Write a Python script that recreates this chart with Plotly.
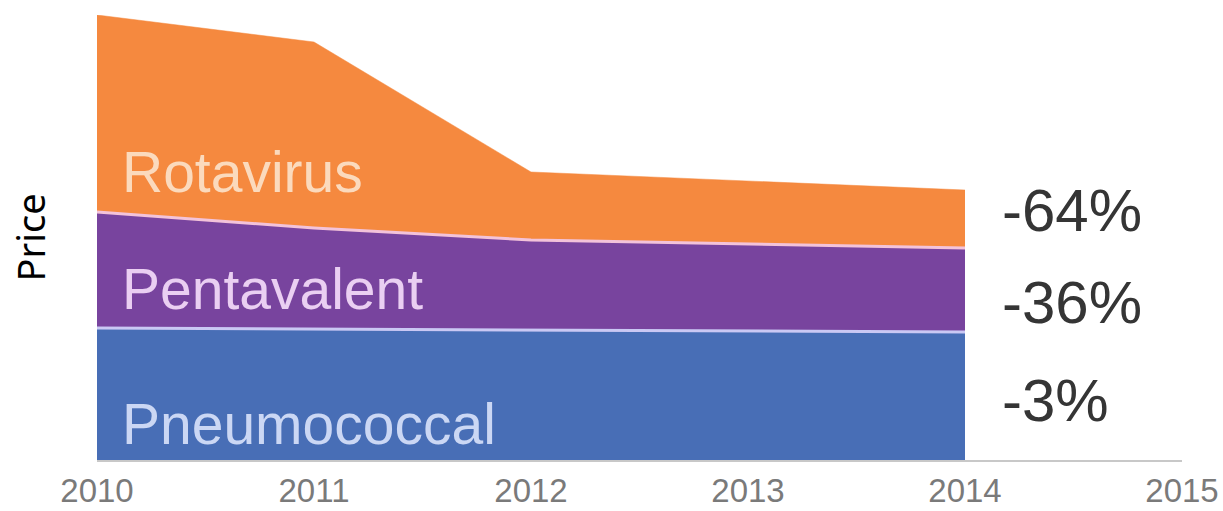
import plotly.graph_objects as go

# Vaccine price data (stacked, arbitrary price units)
years = [2010, 2011, 2012, 2013, 2014]
pneumococcal = [132, 131, 130, 129, 128]
pentavalent = [116, 101, 90, 87, 84]
rotavirus = [197, 186, 68, 63, 58]

series_names = ["Pneumococcal", "Pentavalent", "Rotavirus"]
price_changes = ["-3%", "-36%", "-64%"]
tick_years = [2010, 2011, 2012, 2013, 2014, 2015]

fill_colors = ["#486EB6", "#78449E", "#F5893F"]
edge_colors = ["#CAC8F4", "#F3C3DA", "#F5893F"]
edge_widths = [3, 3, 0.5]
label_colors = ["#CBD7F4", "#EACFF2", "#FBDABD"]

fig = go.Figure()
for name, vals, fc, ec, ew in zip(series_names, [pneumococcal, pentavalent, rotavirus],
                                  fill_colors, edge_colors, edge_widths):
    fig.add_trace(go.Scatter(
        x=years, y=vals, name=name, mode="lines", stackgroup="price",
        fillcolor=fc, line=dict(color=ec, width=ew, shape="linear"),
        hoverinfo="skip",
    ))

# In-area series labels, placed within each band
label_y = [36, 171, 288]
for name, ly, col in zip(series_names, label_y, label_colors):
    fig.add_annotation(
        x=2010.105, y=ly, xref="x", yref="y", text=name, showarrow=False,
        xanchor="left", yanchor="middle",
        font=dict(family="Liberation Sans, Arial, sans-serif", size=57, color=col),
    )

# Percentage changes beside the last year
change_y = [60, 158, 250]
for txt, cy in zip(price_changes, change_y):
    fig.add_annotation(
        x=2014.16, y=cy, xref="x", yref="y", text=txt, showarrow=False,
        xanchor="left", yanchor="middle",
        font=dict(family="Liberation Sans, Arial, sans-serif", size=60, color="#353535"),
    )

# Vertical axis title
fig.add_annotation(
    x=-68 / 1085, y=0.5, xref="paper", yref="paper", text="Price", showarrow=False,
    textangle=-90, xanchor="center", yanchor="middle",
    font=dict(family="Noto Sans, Open Sans, sans-serif", size=38, color="#000000"),
)

fig.update_layout(
    width=1223, height=511,
    margin=dict(l=97, r=41, t=15, b=51, autoexpand=False),
    paper_bgcolor="white", plot_bgcolor="white",
    showlegend=False,
    xaxis=dict(
        range=[2010, 2015], tickvals=tick_years, ticktext=[str(y) for y in tick_years],
        showgrid=False, zeroline=False, showline=True, linecolor="#C8C8C8", linewidth=2,
        ticks="", layer="below traces", ticklabelstandoff=0, automargin=False,
        tickfont=dict(family="Liberation Sans, Arial, sans-serif", size=33, color="#7A7A7A"),
    ),
    yaxis=dict(
        range=[0, 445], showgrid=False, zeroline=False, showline=False,
        showticklabels=False, ticks="", automargin=False,
    ),
)

fig.write_html("out.html")
